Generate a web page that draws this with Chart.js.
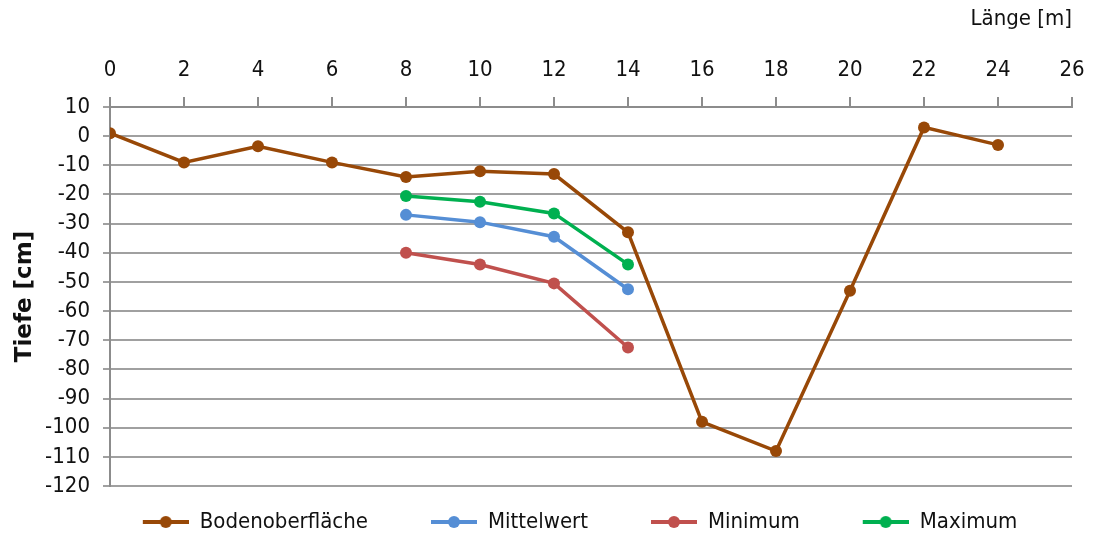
<!DOCTYPE html>
<html>
<head>
<meta charset="utf-8">
<script src="https://cdn.jsdelivr.net/npm/chart.js@4/dist/chart.umd.min.js"></script>
<style>
  html, body { margin: 0; padding: 0; background: #fff; }
  #wrap { width: 1101px; height: 536px; }
</style>
</head>
<body>
<div id="wrap"><canvas id="myChart"></canvas></div>
<script>
// x positions (Länge in m)
const laenge = [0, 2, 4, 6, 8, 10, 12, 14, 16, 18, 20, 22, 24];
const laengeProbe = [8, 10, 12, 14];

// Tiefe in cm
const bodenoberflaeche = [1, -9, -3.5, -9, -14, -12, -13, -33, -98, -108, -53, 3, -3];
const mittelwert = [-27, -29.5, -34.5, -52.5];
const minimum = [-40, -44, -50.5, -72.5];
const maximum = [-20.5, -22.5, -26.5, -44];

const seriesNames = ['Bodenoberfläche', 'Mittelwert', 'Minimum', 'Maximum'];
const seriesColors = ['#984807', '#558ed5', '#c0504d', '#00b050'];

const fontNarrow = '"DejaVu Sans Condensed", "Liberation Sans Narrow", sans-serif';

function toPoints(xs, ys) {
    return xs.map((x, i) => ({ x: x, y: ys[i] }));
}

// line+dot picture for the legend, with empty room on the left as spacing
function legendIcon(color) {
    let c = document.createElement('canvas');
    c.width = 84; c.height = 16;
    let ctx = c.getContext('2d');
    ctx.strokeStyle = color;
    ctx.lineWidth = 4;
    ctx.beginPath();
    ctx.moveTo(38, 8);
    ctx.lineTo(84, 8);
    ctx.stroke();
    ctx.fillStyle = color;
    ctx.beginPath();
    ctx.arc(61, 8, 6, 0, Math.PI * 2);
    ctx.fill();
    return c;
}

// legend sits a bit right of centre in the original
const legendShift = {
    id: 'legendShift',
    afterLayout(chart) {
        if (chart.legend) {
            chart.legend.left += 21;
            chart.legend.right += 21;
        }
    }
};

const allData = [
    toPoints(laenge, bodenoberflaeche),
    toPoints(laengeProbe, mittelwert),
    toPoints(laengeProbe, minimum),
    toPoints(laengeProbe, maximum)
];

const datasets = seriesNames.map((name, i) => ({
    label: name,
    data: allData[i],
    borderColor: seriesColors[i],
    backgroundColor: seriesColors[i],
    borderWidth: 3.5,
    pointRadius: 6,
    pointHoverRadius: 6,
    pointBorderWidth: 0,
    tension: 0
}));

const myChart = new Chart(document.getElementById('myChart'), {
    type: 'line',
    data: { datasets: datasets },
    plugins: [legendShift],
    options: {
        responsive: true,
        maintainAspectRatio: false,
        animation: false,
        layout: { padding: { left: 8, right: 29, top: 0, bottom: -7 } },
        plugins: {
            tooltip: { enabled: false },
            legend: {
                position: 'bottom',
                labels: {
                    font: { family: fontNarrow, size: 22 },
                    color: '#111',
                    padding: 25,
                    usePointStyle: true,
                    pointStyleWidth: 84,
                    generateLabels: (chart) => chart.data.datasets.map((ds, i) => ({
                        text: ds.label,
                        fillStyle: ds.borderColor,
                        strokeStyle: ds.borderColor,
                        fontColor: '#111',
                        pointStyle: legendIcon(ds.borderColor),
                        datasetIndex: i,
                        hidden: false
                    }))
                }
            }
        },
        scales: {
            x: {
                type: 'linear',
                position: 'top',
                min: 0,
                max: 26,
                afterFit: (scale) => { scale.height = 107; },
                ticks: {
                    stepSize: 2,
                    font: { family: fontNarrow, size: 22 },
                    color: '#111',
                    padding: 14
                },
                grid: {
                    drawOnChartArea: false,
                    drawTicks: true,
                    tickLength: 10,
                    color: '#8c8c8c',
                    lineWidth: 2
                },
                border: { color: '#8c8c8c', width: 2 },
                title: {
                    display: true,
                    text: 'Länge [m]',
                    align: 'end',
                    font: { family: fontNarrow, size: 22 },
                    color: '#111',
                    padding: { top: 6, bottom: 10 }
                }
            },
            y: {
                min: -120,
                max: 10,
                afterFit: (scale) => { scale.width = 102; },
                ticks: {
                    stepSize: 10,
                    autoSkip: false,
                    font: { family: fontNarrow, size: 22 },
                    color: '#111',
                    padding: 13
                },
                grid: {
                    color: '#a0a0a0',
                    lineWidth: 2,
                    tickLength: 7
                },
                border: { color: '#8c8c8c', width: 2 },
                title: {
                    display: true,
                    text: 'Tiefe [cm]',
                    font: { family: '"DejaVu Sans", sans-serif', size: 23, weight: 'bold' },
                    color: '#111',
                    padding: { top: 3, bottom: 6 }
                }
            }
        }
    }
});
</script>
</body>
</html>
